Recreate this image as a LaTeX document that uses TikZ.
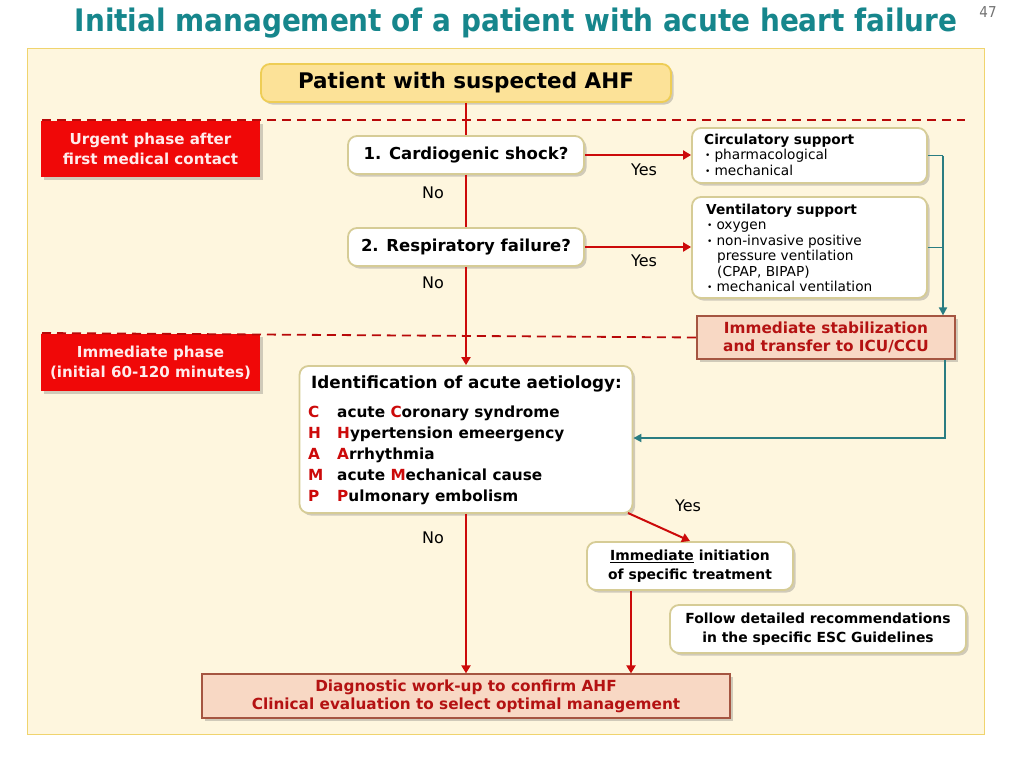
\documentclass[tikz,border=0pt]{standalone}
\usepackage{fontspec}
\setmainfont{DejaVu Sans}
\newfontfamily\condfont{DejaVu Sans Condensed}
\usetikzlibrary{shadows,arrows.meta,positioning}
\definecolor{paneltop}{RGB}{254,246,222}
\definecolor{panelborder}{RGB}{240,212,110}
\definecolor{topfill}{RGB}{252,226,152}
\definecolor{topborder}{RGB}{238,205,85}
\definecolor{khaki}{RGB}{214,204,150}
\definecolor{phasered}{RGB}{240,8,8}
\definecolor{salmon}{RGB}{248,216,196}
\definecolor{brownb}{RGB}{165,85,65}
\definecolor{darkred}{RGB}{180,18,18}
\definecolor{linered}{RGB}{204,10,10}
\definecolor{tealline}{RGB}{42,125,130}
\definecolor{titleteal}{RGB}{22,134,140}
\newcommand{\bul}{{\fontsize{9}{9}\selectfont\raisebox{1pt}{•}}}
\tikzset{
  sh/.style={drop shadow={shadow xshift=2.5pt,shadow yshift=-2.5pt,opacity=0.3,fill=black!60}},
  whitebox/.style={draw=khaki,line width=1.8pt,fill=white,rounded corners=9pt,sh,font=\bfseries,align=center,inner sep=0pt},
  phasebox/.style={fill=phasered,text=white!92!red,font=\bfseries\fontsize{15.1}{20}\selectfont,align=center,inner sep=0pt,sh},
  salmonbox/.style={draw=brownb,line width=1.2pt,fill=salmon,text=darkred,font=\bfseries\fontsize{15.3}{18}\selectfont,align=center,inner sep=0pt,sh},
  redarrow/.style={draw=linered,line width=2pt,-{Triangle[length=8pt,width=9pt]}},
  redline/.style={draw=linered,line width=2pt},
  tealarrow/.style={draw=tealline,line width=1.8pt,-{Triangle[length=8pt,width=8pt]}},
  tealplain/.style={draw=tealline,line width=1.8pt},
  phaseline/.style={draw=linered!90!black,line width=1.8pt,dash pattern=on 9pt off 6pt},
  lbl/.style={font=\fontsize{16}{18}\selectfont,inner sep=0pt},
  letter/.style={anchor=base west,inner sep=0pt,text=linered,font=\bfseries\fontsize{15.3}{17}\selectfont},
  item/.style={anchor=base west,inner sep=0pt,font=\bfseries\fontsize{15.3}{17}\selectfont},
  listtxt/.style={anchor=north west,inner sep=0pt,align=left,font=\fontsize{13.7}{15.5}\selectfont},
}
\begin{document}
\begin{tikzpicture}[x=1pt,y=-1pt]
\useasboundingbox (0,0) rectangle (1010,758);
\fill[white] (0,0) rectangle (1010,758);
% title
\node[text=titleteal,font=\condfont\bfseries\fontsize{31}{34}\selectfont,inner sep=0pt] (title) at (516,23) {Initial management of a patient with acute heart failure};
\node[text=black!55,font=\condfont\fontsize{15}{16}\selectfont,inner sep=0pt] (pagenum) at (988,12) {47};
% panel
\node[draw=panelborder,line width=1pt,fill=paneltop,minimum width=957pt,minimum height=686pt,inner sep=0pt] (panel) at (505.5,391) {};
% dashed phase lines
\coordinate (d1a) at (42,120);
\coordinate (d1b) at (965,120);
\coordinate (d2a) at (42,333);
\draw[phaseline] (d1a) -- (d1b);
% nodes
\node[draw=topborder,line width=1.8pt,fill=topfill,rounded corners=9pt,sh,minimum width=410pt,minimum height=38pt,inner sep=0pt,font=\bfseries\fontsize{21.5}{24}\selectfont] (top) at (466,83) {Patient with suspected AHF};
\node[phasebox,minimum width=219pt,minimum height=56pt] (urgent) at (150.5,149) {Urgent phase after\\first medical contact};
\node[phasebox,minimum width=219pt,minimum height=57pt] (immphase) at (150.5,362.5) {Immediate phase\\(initial 60-120 minutes)};
\node[whitebox,minimum width=236pt,minimum height=38pt,font=\bfseries\fontsize{16.5}{19}\selectfont] (shock) at (466,155) {1. Cardiogenic shock?};
\node[whitebox,minimum width=236pt,minimum height=38pt,font=\bfseries\fontsize{16.5}{19}\selectfont] (resp) at (466,247) {2. Respiratory failure?};
\node[whitebox,minimum width=235pt,minimum height=55pt] (circ) at (809.5,155.5) {};
\node[listtxt] (circtxt) at (704,133.5) {\textbf{Circulatory support}\\\hspace{1pt}\bul\hspace{4pt}pharmacological\\\hspace{1pt}\bul\hspace{4pt}mechanical};
\node[whitebox,minimum width=235pt,minimum height=101pt] (vent) at (809.5,247.5) {};
\node[listtxt] (venttxt) at (706,203.5) {\textbf{Ventilatory support}\\\hspace{1pt}\bul\hspace{4pt}oxygen\\\hspace{1pt}\bul\hspace{4pt}non-invasive positive\\\hspace{11pt}pressure ventilation\\\hspace{11pt}(CPAP, BIPAP)\\\hspace{1pt}\bul\hspace{4pt}mechanical ventilation};
\node[salmonbox,minimum width=258pt,minimum height=43pt] (stab) at (826,337.5) {Immediate stabilization\\and transfer to ICU/CCU};
\draw[phaseline] (d2a) -- (stab.west);
\node[whitebox,minimum width=333pt,minimum height=147pt] (ident) at (466,439.5) {};
\node[anchor=base west,inner sep=0pt,font=\bfseries\fontsize{16.8}{19}\selectfont] (identtitle) at (311,388) {Identification of acute aetiology:};
\node[letter] (lc) at (308,417) {C};
\node[item] (ic) at (337,417) {acute \textcolor{linered}{C}oronary syndrome};
\node[letter] (lh) at (308,438) {H};
\node[item] (ih) at (337,438) {\textcolor{linered}{H}ypertension emeergency};
\node[letter] (la) at (308,459) {A};
\node[item] (ia) at (337,459) {\textcolor{linered}{A}rrhythmia};
\node[letter] (lm) at (308,480) {M};
\node[item] (im) at (337,480) {acute \textcolor{linered}{M}echanical cause};
\node[letter] (lp) at (308,501) {P};
\node[item] (ip) at (337,501) {\textcolor{linered}{P}ulmonary embolism};
\node[whitebox,minimum width=206pt,minimum height=48pt,font=\bfseries\fontsize{13.9}{19}\selectfont] (immed) at (690,566) {\underline{Immediate} initiation\\of specific treatment};
\node[whitebox,minimum width=296pt,minimum height=48pt,font=\bfseries\fontsize{13.9}{19}\selectfont] (follow) at (818,629) {Follow detailed recommendations\\in the specific ESC Guidelines};
\node[salmonbox,minimum width=528pt,minimum height=44pt] (diag) at (466,696) {Diagnostic work-up to confirm AHF\\Clinical evaluation to select optimal management};
% labels
\node[lbl] (no1) at (433,193) {No};
\node[lbl] (no2) at (433,283) {No};
\node[lbl] (no3) at (433,538) {No};
\node[lbl] (yes1) at (644,170) {Yes};
\node[lbl] (yes2) at (644,261) {Yes};
\node[lbl] (yes3) at (688,506) {Yes};
% connectors
\draw[redline] (top.south) -- (shock.north);
\draw[redline] (shock.south) -- (resp.north);
\draw[redarrow] (resp.south) -- (ident.north);
\draw[redarrow] (shock.east) -- (circ.west |- shock.east);
\draw[redarrow] (resp.east) -- (vent.west |- resp.east);
\draw[redarrow] (ident.south) -- (diag.north);
\coordinate (identcorner) at (628,513);
\coordinate (immedtop) at (690,541);
\draw[redarrow] (identcorner) -- (immedtop);
\draw[redarrow] (immed.south -| 631,0) -- (diag.north -| 631,0);
\coordinate (tx) at (943,0);
\draw[tealplain] (circ.east) -- (circ.east -| tx);
\draw[tealplain] (vent.east) -- (vent.east -| tx);
\draw[tealarrow] (circ.east -| tx) -- (stab.north -| tx);
\coordinate (tx2) at (945,438);
\draw[tealarrow] (stab.south -| tx2) -- (tx2) -- (ident.east |- tx2);
\end{tikzpicture}
\end{document}
